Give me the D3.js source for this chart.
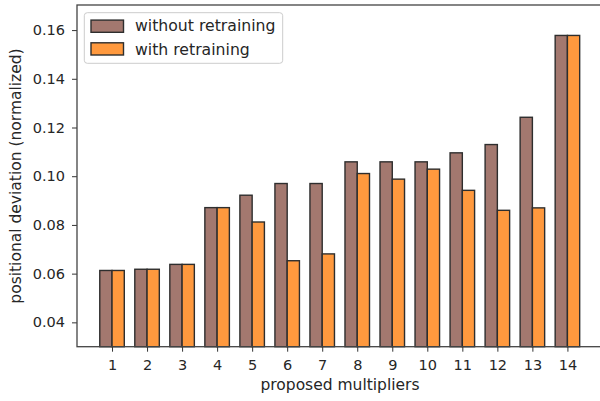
<!DOCTYPE html>
<html><head><meta charset="utf-8">
<script src="https://cdn.jsdelivr.net/npm/d3@7"></script>
<style>body{margin:0;background:#fff}svg{display:block}text{font-family:"DejaVu Sans",sans-serif;fill:#262626}</style>
</head><body><svg id="c" width="600" height="401"></svg>
<script>
const categories = [1,2,3,4,5,6,7,8,9,10,11,12,13,14];
const withoutRetraining = [0.0613,0.0618,0.0638,0.0871,0.0922,0.0970,0.0970,0.1059,0.1059,0.1059,0.1096,0.1130,0.1242,0.1578];
const withRetraining    = [0.0613,0.0618,0.0638,0.0871,0.0812,0.0653,0.0681,0.1011,0.0988,0.1029,0.0942,0.0860,0.0870,0.1578];
const yTicks = [0.04,0.06,0.08,0.10,0.12,0.14,0.16];
const seriesNames = ["without retraining","with retraining"];
const colors = ["#a3786f","#ff993e"];

const svg = d3.select("#c");
const L=77, T=5, B=346.7, R=630;
const x = d3.scaleLinear().domain([0, 15.0]).range([L, L + 15.0*35.03]);
const y = d3.scaleLinear().domain([0.03, 0.1703]).range([B, T]);
const bw = 0.35;

const g = svg.append("g");
[withoutRetraining, withRetraining].forEach((vals, si) => {
  g.selectAll(null).data(categories).enter().append("rect")
    .attr("x", (d,i) => x(d - bw + si*bw))
    .attr("width", x(bw) - x(0))
    .attr("y", (d,i) => y(vals[i]))
    .attr("height", (d,i) => B - y(vals[i]))
    .attr("fill", colors[si])
    .attr("stroke", "#2e2e2e").attr("stroke-width", 1.4);
});

// axes
const xa = svg.append("g").attr("transform", `translate(0,${B})`)
  .call(d3.axisBottom(x).tickValues(categories).tickFormat(d3.format("d")).tickSizeOuter(0).tickSize(5));
const ya = svg.append("g").attr("transform", `translate(${L},0)`)
  .call(d3.axisLeft(y).tickValues(yTicks).tickFormat(d3.format(".2f")).tickSizeOuter(0).tickSize(5));
[xa, ya].forEach(a => {
  a.select(".domain").remove();
  a.selectAll(".tick line").attr("stroke","#333").attr("stroke-width",1);
  a.selectAll(".tick text").attr("font-size","14.5px").attr("fill","#262626").style("font-family","DejaVu Sans");
});
xa.selectAll(".tick text").attr("dy","0.71em").attr("y", 13);
ya.selectAll(".tick text").attr("x", -12);

// spines
svg.append("rect").attr("x", L).attr("y", T).attr("width", R-L).attr("height", B-T)
  .attr("fill","none").attr("stroke","#444").attr("stroke-width",1.3);

// labels
svg.append("text").attr("x", 340).attr("y", 390).attr("text-anchor","middle")
  .attr("font-size","15.5px").text("proposed multipliers");
svg.append("text").attr("transform", `translate(21,176) rotate(-90)`).attr("text-anchor","middle")
  .attr("font-size","15.5px").text("positional deviation (normalized)");

// legend
const lg = svg.append("g").attr("transform","translate(84.3,12.7)");
lg.append("rect").attr("width",198.4).attr("height",50.6).attr("rx",3)
  .attr("fill","#fff").attr("fill-opacity",0.8).attr("stroke","#ccc");
seriesNames.forEach((n,i) => {
  lg.append("rect").attr("x",6.7).attr("y",7.4+i*22.7).attr("width",32.5).attr("height",12.2)
    .attr("fill",colors[i]).attr("stroke","#2e2e2e").attr("stroke-width",1.4);
  lg.append("text").attr("x",50.7).attr("y",13.3+i*23.3).attr("dy","0.35em")
    .attr("font-size","15.7px").text(n);
});
</script></body></html>
